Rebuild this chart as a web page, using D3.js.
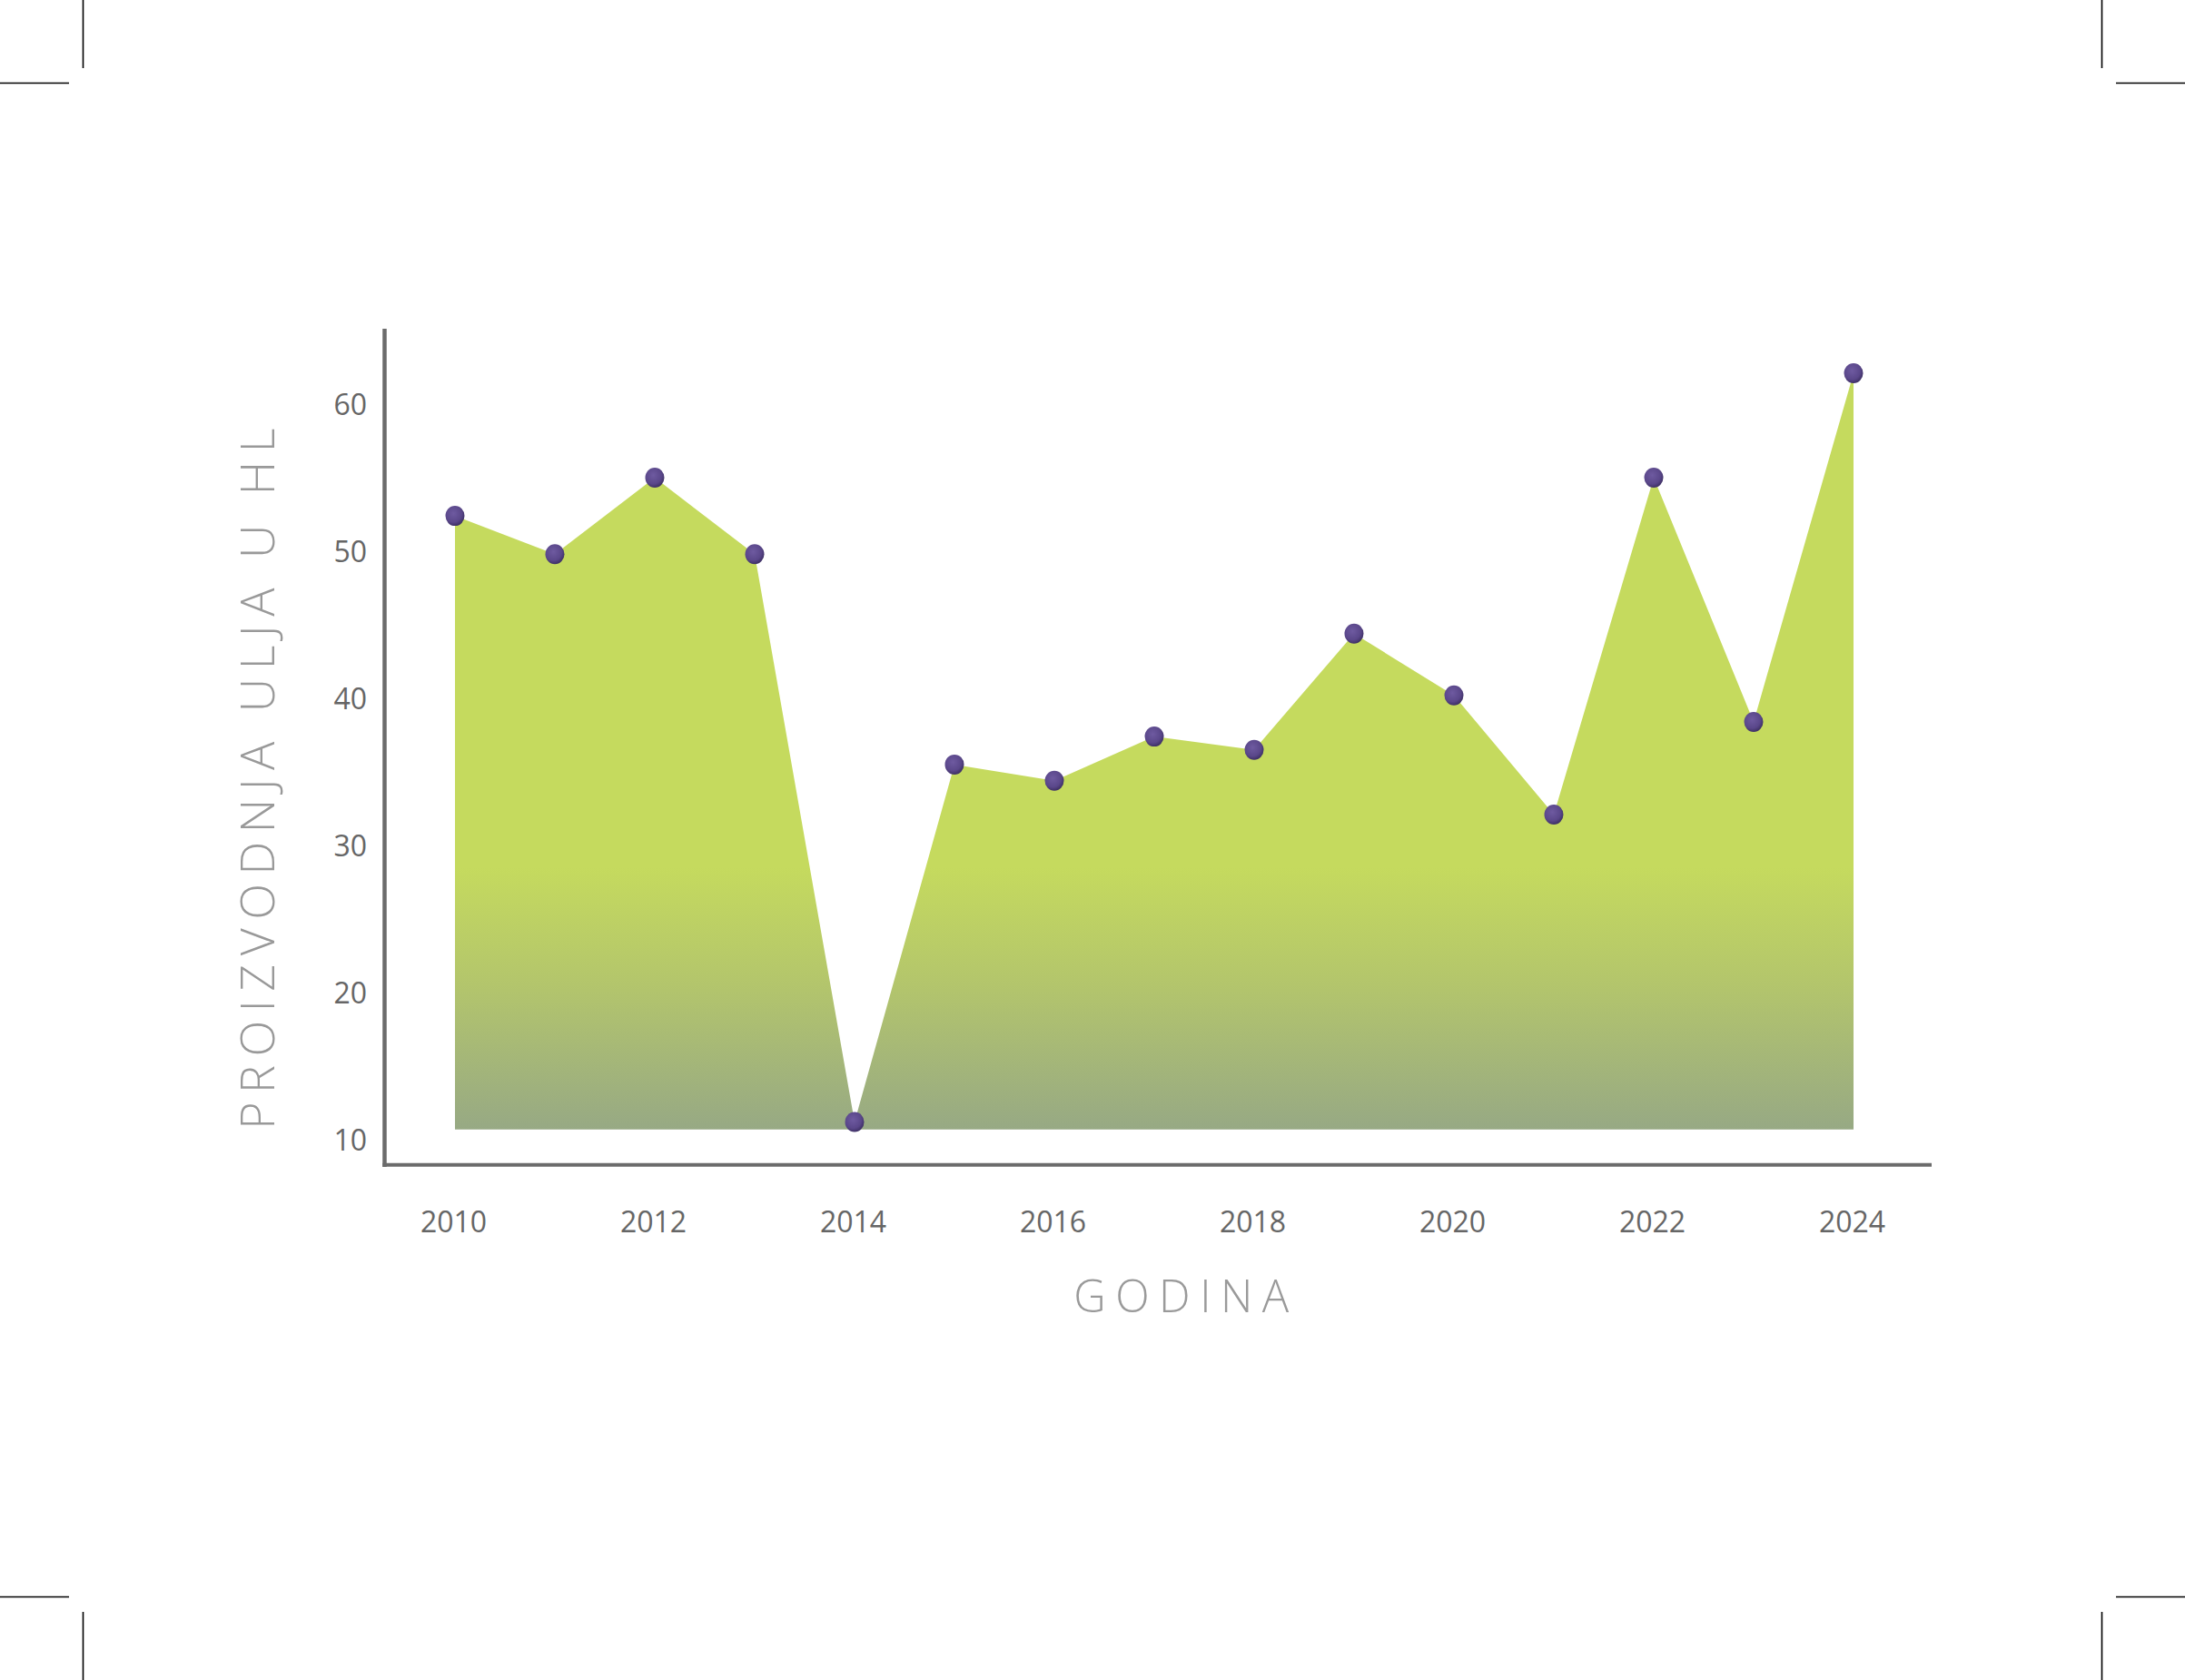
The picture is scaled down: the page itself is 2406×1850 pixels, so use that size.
<!DOCTYPE html>
<html>
<head>
<meta charset="utf-8">
<script src="https://cdn.jsdelivr.net/npm/d3@7"></script>
<style>
  html, body { margin: 0; padding: 0; background: #ffffff; }
  svg { display: block; }
</style>
</head>
<body>
<svg id="chart" width="2406" height="1850"></svg>
<script>
// ---- data ----
const years = [2010, 2011, 2012, 2013, 2014, 2015, 2016, 2017, 2018, 2019, 2020, 2021, 2022, 2023, 2024];
const production = [52.4, 49.8, 55.0, 49.8, 11.2, 35.5, 34.4, 37.4, 36.5, 44.4, 40.2, 32.1, 55.0, 38.4, 62.1];
const xTickYears = [2010, 2012, 2014, 2016, 2018, 2020, 2022, 2024];
const yTickValues = [10, 20, 30, 40, 50, 60];
const baseValue = 10.7;
const xTitle = "GODINA";
const yTitle = "PROIZVODNJA ULJA U HL";

// ---- layout ----
const W = 2406, H = 1850;
const svg = d3.select("#chart");

const x = d3.scaleLinear().domain([2010, 2024]).range([501, 2041]);
const y = d3.scaleLinear().domain([10, 60]).range([1255, 445]);

const axisX0 = 423.5, axisY0 = 1282.7, axisTop = 362, axisRight = 2127;

// ---- defs ----
const defs = svg.append("defs");
const grad = defs.append("linearGradient")
  .attr("id", "areaGrad")
  .attr("gradientUnits", "userSpaceOnUse")
  .attr("x1", 0).attr("x2", 0)
  .attr("y1", y(28.5)).attr("y2", y(baseValue));
grad.append("stop").attr("offset", 0).attr("stop-color", "#c5da5e");
grad.append("stop").attr("offset", 0.45).attr("stop-color", "#b3c56c");
grad.append("stop").attr("offset", 1).attr("stop-color", "#97a984");

const rg = defs.append("radialGradient")
  .attr("id", "dotGrad")
  .attr("cx", "0.42").attr("cy", "0.38").attr("r", "0.62");
rg.append("stop").attr("offset", 0).attr("stop-color", "#6e5aa0");
rg.append("stop").attr("offset", 0.7).attr("stop-color", "#5a478a");
rg.append("stop").attr("offset", 1).attr("stop-color", "#3f3166");

// ---- crop marks ----
const crop = svg.append("g").attr("stroke", "#000").attr("stroke-width", 1.6);
[[91.5, 0, 91.5, 75], [0, 91.5, 76, 91.5],
 [2314.5, 0, 2314.5, 75], [2330, 91.5, 2406, 91.5],
 [0, 1758.5, 76, 1758.5], [91.5, 1775, 91.5, 1850],
 [2330, 1758.5, 2406, 1758.5], [2314.5, 1775, 2314.5, 1850]
].forEach(l => crop.append("line").attr("x1", l[0]).attr("y1", l[1]).attr("x2", l[2]).attr("y2", l[3]));

// ---- area ----
const pts = years.map((yr, i) => ({ yr, v: production[i] }));
const area = d3.area()
  .x(d => x(d.yr))
  .y0(y(baseValue))
  .y1(d => y(d.v));
svg.append("path")
  .datum(pts)
  .attr("d", area)
  .attr("fill", "url(#areaGrad)");

// ---- axes ----
const axisColor = "#6b6b6b";
svg.append("line")
  .attr("x1", axisX0).attr("x2", axisX0)
  .attr("y1", axisTop).attr("y2", axisY0 + 2.2)
  .attr("stroke", axisColor).attr("stroke-width", 4.5);
svg.append("line")
  .attr("x1", axisX0 - 2.2).attr("x2", axisRight)
  .attr("y1", axisY0).attr("y2", axisY0)
  .attr("stroke", axisColor).attr("stroke-width", 4);

// y tick labels via d3 axis
const yAxis = d3.axisLeft(y).tickValues(yTickValues).tickSize(0).tickPadding(0);
const gy = svg.append("g").attr("transform", `translate(404,0)`).call(yAxis);
gy.select(".domain").remove();
gy.selectAll("text")
  .attr("font-family", "'Open Sans', sans-serif")
  .attr("font-size", 32)
  .attr("fill", "#666666")
  .attr("dy", "0.36em");

// x tick labels via d3 axis
const xAxis = d3.axisBottom(x).tickValues(xTickYears).tickFormat(d3.format("d")).tickSize(0).tickPadding(0);
const gx = svg.append("g").attr("transform", `translate(-2,1357)`).call(xAxis);
gx.select(".domain").remove();
gx.selectAll("text")
  .attr("font-family", "'Open Sans', sans-serif")
  .attr("font-size", 32)
  .attr("fill", "#666666")
  .attr("dy", 0);

// ---- markers ----
svg.append("g").selectAll("ellipse")
  .data(pts)
  .enter().append("ellipse")
  .attr("cx", d => x(d.yr))
  .attr("cy", d => y(d.v))
  .attr("rx", 10.5)
  .attr("ry", 11)
  .attr("fill", "url(#dotGrad)");

// ---- titles ----
svg.append("text")
  .attr("x", 1306)
  .attr("y", 1445)
  .attr("text-anchor", "middle")
  .attr("font-family", "'Open Sans', sans-serif")
  .attr("font-weight", 300)
  .attr("font-size", 49)
  .attr("letter-spacing", "10.5px")
  .attr("fill", "#9a9a9a")
  .text(xTitle);

svg.append("text")
  .attr("transform", "translate(302,853) rotate(-90)")
  .attr("text-anchor", "middle")
  .attr("font-family", "'Open Sans', sans-serif")
  .attr("font-weight", 300)
  .attr("font-size", 52)
  .attr("letter-spacing", "9.5px")
  .attr("fill", "#999999")
  .text(yTitle);
</script>
</body>
</html>
